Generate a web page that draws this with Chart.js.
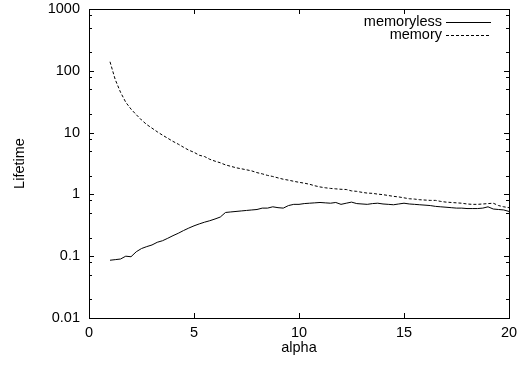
<!DOCTYPE html>
<html>
<head>
<meta charset="utf-8">
<script src="https://cdn.jsdelivr.net/npm/chart.js@4/dist/chart.umd.min.js"></script>
<style>
  html, body { margin: 0; padding: 0; background: #fff; }
  #plot { display: block; }
</style>
</head>
<body>
<canvas id="plot" width="531" height="368"></canvas>
<script>
// lifetime vs alpha, both runs share the same alpha grid
const alphaValues = [
  1, 1.25, 1.5, 1.75, 2, 2.25, 2.5, 2.75, 3, 3.25,
  3.5, 3.75, 4, 4.25, 4.5, 4.75, 5, 5.25, 5.5, 5.75,
  6, 6.25, 6.5, 6.75, 7, 7.25, 7.5, 7.75, 8, 8.25,
  8.5, 8.75, 9, 9.25, 9.5, 9.75, 10, 10.25, 10.5, 10.75,
  11, 11.25, 11.5, 11.75, 12, 12.25, 12.5, 12.75, 13, 13.25,
  13.5, 13.75, 14, 14.25, 14.5, 14.75, 15, 15.25, 15.5, 15.75,
  16, 16.25, 16.5, 16.75, 17, 17.25, 17.5, 17.75, 18, 18.25,
  18.5, 18.75, 19, 19.25, 19.5, 19.75, 20
];

const memorylessValues = [
  0.086, 0.088, 0.09, 0.1, 0.098, 0.118, 0.133, 0.143, 0.152, 0.168,
  0.178, 0.195, 0.215, 0.235, 0.26, 0.285, 0.31, 0.333, 0.355, 0.375,
  0.4, 0.43, 0.51, 0.52, 0.53, 0.54, 0.55, 0.56, 0.57, 0.6,
  0.6, 0.63, 0.61, 0.6, 0.66, 0.69, 0.69, 0.71, 0.72, 0.73,
  0.74, 0.73, 0.72, 0.74, 0.69, 0.72, 0.75, 0.71, 0.7, 0.69,
  0.71, 0.72, 0.7, 0.69, 0.68, 0.7, 0.72, 0.7, 0.69, 0.68,
  0.67, 0.66, 0.64, 0.63, 0.62, 0.61, 0.6, 0.6, 0.59, 0.59,
  0.59, 0.6, 0.63, 0.58, 0.57, 0.56, 0.53
];

const memoryValues = [
  140, 72, 45, 31, 24, 19.5, 16, 13.5, 11.8, 10.3,
  9.1, 8.1, 7.2, 6.5, 5.8, 5.2, 4.8, 4.3, 4.1, 3.7,
  3.45, 3.25, 3.0, 2.85, 2.7, 2.6, 2.5, 2.4, 2.25, 2.15,
  2.03, 1.95, 1.85, 1.76, 1.7, 1.63, 1.57, 1.52, 1.46, 1.38,
  1.32, 1.28, 1.25, 1.23, 1.21, 1.2, 1.14, 1.12, 1.08, 1.05,
  1.04, 1.01, 0.99, 0.96, 0.93, 0.91, 0.88, 0.85, 0.84, 0.82,
  0.81, 0.8, 0.8, 0.77, 0.75, 0.74, 0.73, 0.72, 0.7, 0.69,
  0.69, 0.7, 0.71, 0.72, 0.66, 0.63, 0.61
];

// y axis: labelled decades plus minor marks at 2, 5, 8
const yMajorTicks = [0.01, 0.1, 1, 10, 100, 1000];
const yMajorLabels = ['0.01', '0.1', '1', '10', '100', '1000'];
const yMinorTicks = [
  0.02, 0.05, 0.08, 0.2, 0.5, 0.8, 2, 5, 8,
  20, 50, 80, 200, 500, 800
];
const xTickValues = [0, 5, 10, 15, 20];

const FONT = '"Liberation Sans", Arial, Helvetica, sans-serif';
const INK = '#000';

function toPoints(xs, ys) {
  return xs.map((x, i) => ({ x: x, y: ys[i] }));
}

// gnuplot style frame: full box, ticks pointing inwards and mirrored
const frameTicks = {
  id: 'frameTicks',
  afterDraw(chart) {
    const { ctx, chartArea: a } = chart;
    const x = chart.scales.x;
    const y = chart.scales.y;
    ctx.save();
    ctx.strokeStyle = INK;
    ctx.lineWidth = 1;
    ctx.strokeRect(Math.round(a.left) + 0.5, Math.round(a.top) + 0.5,
      Math.round(a.right - a.left), Math.round(a.bottom - a.top));
    ctx.beginPath();
    xTickValues.forEach(v => {
      const px = Math.round(x.getPixelForValue(v)) + 0.5;
      ctx.moveTo(px, a.bottom); ctx.lineTo(px, a.bottom - 5);
      ctx.moveTo(px, a.top); ctx.lineTo(px, a.top + 5);
    });
    const yMark = (v, len) => {
      const py = Math.round(y.getPixelForValue(v)) + 0.5;
      ctx.moveTo(a.left, py); ctx.lineTo(a.left + len, py);
      ctx.moveTo(a.right, py); ctx.lineTo(a.right - len, py);
    };
    yMajorTicks.forEach(v => yMark(v, 5));
    yMinorTicks.forEach(v => yMark(v, 3));
    ctx.stroke();
    ctx.restore();
  }
};

// legend in the top right corner: text first, then the line sample
const keyBox = {
  id: 'keyBox',
  afterDraw(chart) {
    const { ctx } = chart;
    ctx.save();
    ctx.font = '14.5px ' + FONT;
    ctx.fillStyle = INK;
    ctx.textAlign = 'right';
    ctx.textBaseline = 'middle';
    chart.data.datasets.forEach((ds, i) => {
      const rowY = 22 + i * 13;
      ctx.fillText(ds.label, 442, rowY);
      ctx.beginPath();
      ctx.strokeStyle = ds.borderColor;
      ctx.lineWidth = ds.borderWidth;
      ctx.setLineDash(ds.borderDash || []);
      ctx.moveTo(446, Math.round(rowY) + 0.5);
      ctx.lineTo(491, Math.round(rowY) + 0.5);
      ctx.stroke();
    });
    ctx.restore();
  }
};

new Chart(document.getElementById('plot'), {
  type: 'line',
  data: {
    datasets: [
      {
        label: 'memoryless',
        data: toPoints(alphaValues, memorylessValues),
        borderColor: INK,
        borderWidth: 1,
        pointRadius: 0,
        tension: 0,
        fill: false
      },
      {
        label: 'memory',
        data: toPoints(alphaValues, memoryValues),
        borderColor: INK,
        borderWidth: 1,
        borderDash: [3, 2],
        pointRadius: 0,
        tension: 0,
        fill: false
      }
    ]
  },
  options: {
    responsive: false,
    animation: false,
    layout: { padding: { left: 0, right: 22, top: 9, bottom: 0 } },
    plugins: {
      legend: { display: false },
      tooltip: { enabled: false }
    },
    scales: {
      x: {
        type: 'linear',
        min: 0,
        max: 20,
        afterFit: (scale) => {
          scale.height = 50;
          scale.paddingLeft = 0;
          scale.paddingRight = 0;
        },
        afterBuildTicks: (scale) => { scale.ticks = xTickValues.map(v => ({ value: v })); },
        grid: { display: false, drawTicks: false },
        border: { display: false },
        ticks: {
          color: INK,
          padding: 6,
          font: { family: FONT, size: 14.5 },
          callback: (value) => String(value)
        },
        title: {
          display: true,
          text: 'alpha',
          color: INK,
          font: { family: FONT, size: 14.5 },
          padding: { top: 0, bottom: 11 }
        }
      },
      y: {
        type: 'logarithmic',
        min: 0.01,
        max: 1000,
        afterFit: (scale) => {
          scale.width = 89;
          scale.paddingTop = 0;
          scale.paddingBottom = 0;
        },
        afterBuildTicks: (scale) => { scale.ticks = yMajorTicks.map(v => ({ value: v })); },
        grid: { display: false, drawTicks: false },
        border: { display: false },
        ticks: {
          color: INK,
          padding: 9,
          autoSkip: false,
          font: { family: FONT, size: 14.5 },
          callback: (value) => {
            const i = yMajorTicks.indexOf(value);
            return i >= 0 ? yMajorLabels[i] : '';
          }
        },
        title: {
          display: true,
          text: 'Lifetime',
          color: INK,
          font: { family: FONT, size: 14.5 },
          padding: { top: 11, bottom: 0 }
        }
      }
    }
  },
  plugins: [frameTicks, keyBox]
});
</script>
</body>
</html>
